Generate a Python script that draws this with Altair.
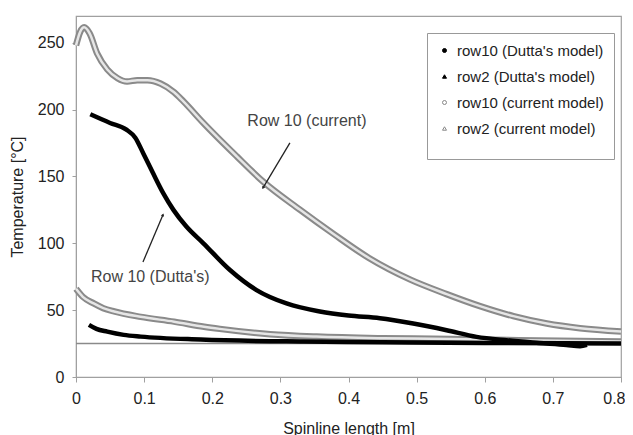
import altair as alt
import pandas as pd

# ---- data ----
S_D10 = "row10 (Dutta's model)"
S_D2 = "row2 (Dutta's model)"
S_C10 = "row10 (current model)"
S_C2 = "row2 (current model)"
SERIES = [S_D10, S_D2, S_C10, S_C2]

c10_x = [0, 0.006, 0.012, 0.02, 0.031, 0.046, 0.061, 0.075, 0.09, 0.105, 0.124, 0.144, 0.158, 0.187,
         0.236, 0.275, 0.329, 0.378, 0.43, 0.49, 0.544, 0.593, 0.642, 0.691, 0.74, 0.8]
c10_y = [248, 258, 261.5, 257, 242, 230, 223.5, 221, 222, 222, 219.5, 213, 206, 190,
         165, 146, 125, 107, 89, 73, 62, 53, 45.5, 40, 36.5, 34]

d10_x = [0.021, 0.05, 0.074, 0.087, 0.099, 0.113, 0.128, 0.143, 0.162, 0.187, 0.226, 0.265, 0.309,
         0.358, 0.4, 0.446, 0.495, 0.544, 0.588, 0.632, 0.68, 0.72, 0.74, 0.75]
d10_y = [196.5, 190, 185, 179, 167, 152.5, 137.5, 125, 112.5, 100, 80, 65, 55,
         49, 46, 44, 40, 35, 30, 27.5, 25.5, 24, 23, 24]

c2_x = [0, 0.01, 0.026, 0.04, 0.056, 0.095, 0.144, 0.188, 0.211, 0.285, 0.353, 0.45, 0.55, 0.65, 0.8]
c2_y = [66, 60, 55, 51.5, 49, 45, 41.4, 37.6, 36, 32, 30.2, 29, 28.5, 27.5, 26.5]

d2_x = [0.019, 0.03, 0.046, 0.07, 0.095, 0.183, 0.334, 0.45, 0.6, 0.8]
d2_y = [39, 36, 33.9, 31.5, 30.2, 28, 26.5, 26, 25.5, 25]

AMBIENT = [25]

x_ticks = [0, 0.1, 0.2, 0.3, 0.4, 0.5, 0.6, 0.7, 0.8]
y_ticks = [0, 50, 100, 150, 200, 250]

ann_text = ["Row 10 (current)", "Row 10 (Dutta's)"]
ann_tx = [0.339, 0.109]
ann_ty = [191.6, 74.9]
arr_x = [0.314, 0.0983]
arr_y = [175.1, 86.0]
arr_x2 = [0.2745, 0.1277]
arr_y2 = [141.5, 121.3]
arr_angle = [211, 23]

# ---- tables ----
def frame(xs, ys, name):
    return pd.DataFrame({"x": xs, "y": ys, "series": name})

df = pd.concat([frame(d10_x, d10_y, S_D10), frame(d2_x, d2_y, S_D2),
                frame(c10_x, c10_y, S_C10), frame(c2_x, c2_y, S_C2)], ignore_index=True)
gray = df[df.series.isin([S_C10, S_C2])]
black = df[df.series.isin([S_D10, S_D2])]
ann = pd.DataFrame({"text": ann_text, "x": ann_tx, "y": ann_ty})
arrows = pd.DataFrame({"x": arr_x, "y": arr_y, "x2": arr_x2, "y2": arr_y2, "angle": arr_angle})
amb = pd.DataFrame({"y": AMBIENT})

xs = alt.Scale(domain=[0, 0.8], nice=False, zero=False)
ys = alt.Scale(domain=[0, 270], nice=False)

X = alt.X("x:Q", scale=xs, title="Spinline length [m]",
          axis=alt.Axis(values=x_ticks, format="~g", grid=False, tickSize=5, labelFlush=False,
                        labelAlign=alt.ExprRef(expr="datum.value >= 0.79 ? 'right' : 'center'"),
                        labelOffset=alt.ExprRef(expr="datum.value >= 0.79 ? 4 : 0"),
                        labelPadding=8, titlePadding=14))
Y = alt.Y("y:Q", scale=ys, title="Temperature [°C]",
          axis=alt.Axis(values=y_ticks, format="d", grid=False, tickSize=4,
                        labelPadding=8, titlePadding=12))

ambient = alt.Chart(amb).mark_rule(color="#8a8a8a", strokeWidth=1.5).encode(y=alt.Y("y:Q", scale=ys))

gray_outer = alt.Chart(gray).mark_line(color="#8a8a8a", strokeWidth=6.5, interpolate="monotone").encode(
    x=X, y=Y, detail="series:N")
gray_inner = alt.Chart(gray).mark_line(color="#e6e6e6", strokeWidth=2.5, interpolate="monotone").encode(
    x=X, y=Y, detail="series:N")
black_line = alt.Chart(black).mark_line(color="black", strokeWidth=4.5, interpolate="monotone").encode(
    x=X, y=Y, detail="series:N")

LEG_TITLE = "."
legend_pts = alt.Chart(df).mark_point(opacity=0, size=16, strokeWidth=1).encode(
    x=X, y=Y,
    shape=alt.Shape("series:N", scale=alt.Scale(domain=SERIES, range=["circle", "triangle-up", "circle", "triangle-up"]),
                    title=LEG_TITLE),
    stroke=alt.Stroke("series:N", scale=alt.Scale(domain=SERIES, range=["black", "black", "#888888", "#888888"]),
                      title=LEG_TITLE),
    fill=alt.Fill("series:N", scale=alt.Scale(domain=SERIES, range=["black", "black", "white", "white"]),
                  title=LEG_TITLE),
)

texts = alt.Chart(ann).mark_text(fontSize=16, color="#444444", font="Liberation Sans").encode(
    x=alt.X("x:Q", scale=xs), y=alt.Y("y:Q", scale=ys), text="text:N")
arrow_lines = alt.Chart(arrows).mark_rule(color="#222222", strokeWidth=1.3).encode(
    x=alt.X("x:Q", scale=xs), y=alt.Y("y:Q", scale=ys), x2="x2:Q", y2="y2:Q")
arrow_heads = alt.Chart(arrows).mark_point(shape="triangle-up", filled=True, color="#222222", size=12, opacity=1).encode(
    x=alt.X("x2:Q", scale=xs), y=alt.Y("y2:Q", scale=ys), angle=alt.Angle("angle:Q", scale=None))

chart = alt.layer(ambient, gray_outer, gray_inner, black_line, arrow_lines, arrow_heads, texts, legend_pts).properties(
    width=545, height=361,
    autosize=alt.AutoSizeParams(type="none"),
    padding={"left": 68, "top": 8, "right": 4, "bottom": 58},
).configure(font="Liberation Sans").configure_view(
    stroke="#a0a0a0", strokeWidth=1.2
).configure_axis(
    domainColor="#a0a0a0", tickColor="#a0a0a0", labelFontSize=16, titleFontSize=16,
    labelColor="#222222", titleColor="#222222", titleFontWeight="normal", labelFont="Liberation Sans",
    titleFont="Liberation Sans"
).configure_legend(
    orient="none", legendX=351, legendY=17, strokeColor="#999999", fillColor="white",
    padding=10, rowPadding=10, labelFontSize=15, labelColor="#222222", labelFont="Liberation Sans",
    symbolSize=16, symbolOpacity=1, symbolStrokeWidth=1, labelOffset=5,
    titleOrient="bottom", titleFontSize=9, titlePadding=3, titleColor="white"
)

chart.save("out.html", embed_options={"renderer": "svg", "actions": False})
